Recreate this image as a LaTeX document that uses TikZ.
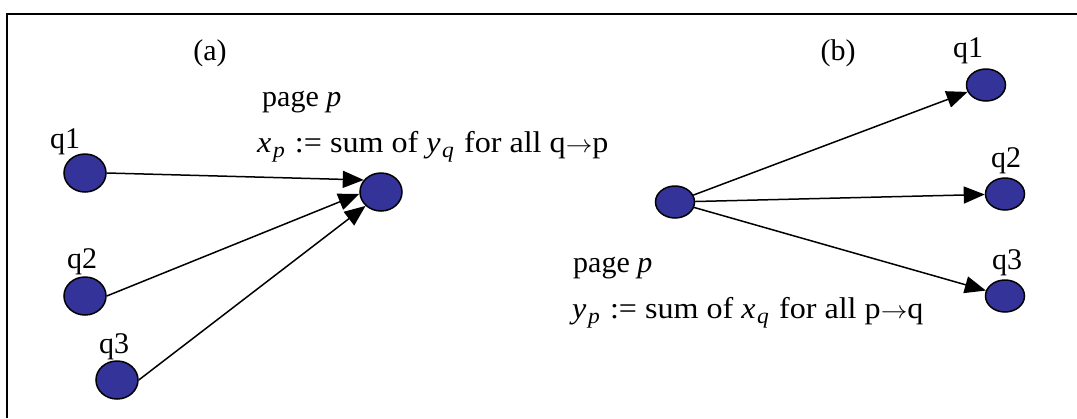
\documentclass[tikz,border=0pt]{standalone}
\usepackage{fontspec}
\setmainfont{Liberation Serif}
\definecolor{pageblue}{HTML}{333399}
\usetikzlibrary{arrows.meta,shapes.geometric}
% italic variable with its subscript
\newcommand{\pgvar}[2]{\textit{#1}\kern1.5pt\raisebox{-5pt}{\fontsize{22}{22}\selectfont\textit{#2}}\kern2pt\relax}
% a rule line, a little wider than the font
\newcommand{\pgrule}[1]{\scalebox{1.07}[1]{#1}}

\begin{document}
\begin{tikzpicture}[x=1pt,y=-1pt,
  pagenode/.style={ellipse,draw=black,line width=1.5pt,fill=pageblue,inner sep=0pt},
  bigpage/.style={pagenode,minimum width=42pt,minimum height=38pt},
  smallpage/.style={pagenode,minimum width=39pt,minimum height=32pt},
  link/.style={-{Triangle[length=21pt,width=17pt]},line width=1.5pt},
  lbl/.style={inner sep=0pt}]
  \fontsize{30}{36}\selectfont
  \useasboundingbox (0,0) rectangle (1077,418);
  % frame
  \draw[line width=2pt] (7,418) -- (7,14) -- (1077,14);
  % (a) in-links
  \node[lbl,anchor=base] (atitle) at (210,60) {(a)};
  \node[lbl,anchor=base west] (apage) at (262,106) {page \textit{p}};
  \node[lbl,anchor=base west] (arule) at (257,152) {\pgrule{\pgvar{x}{p} := sum of \pgvar{y}{q} for all q\ensuremath{\rightarrow}p}};
  \node[bigpage] (qa1) at (85,173) {};
  \node[lbl,anchor=base] (qa1lbl) at (65,148) {q1};
  \node[bigpage] (qa2) at (85,296) {};
  \node[lbl,anchor=base] (qa2lbl) at (82,268) {q2};
  \node[bigpage] (qa3) at (117,380) {};
  \node[lbl,anchor=base] (qa3lbl) at (114,353) {q3};
  \node[bigpage] (pa) at (381,192) {};
  \draw[link] (qa1.east) -- (pa.145);
  \draw[link] (qa2.east) -- (pa.185);
  \draw[link] (qa3.east) -- (pa.222);
  % (b) out-links
  \node[lbl,anchor=base] (btitle) at (838,60) {(b)};
  \node[lbl,anchor=base west] (bpage) at (573,272) {page \textit{p}};
  \node[lbl,anchor=base west] (brule) at (572,318) {\pgrule{\pgvar{y}{p} := sum of \pgvar{x}{q} for all p\ensuremath{\rightarrow}q}};
  \node[smallpage] (pb) at (675,202) {};
  \node[smallpage] (qb1) at (986,85) {};
  \node[lbl,anchor=base] (qb1lbl) at (968,57) {q1};
  \node[smallpage] (qb2) at (1005,194) {};
  \node[lbl,anchor=base] (qb2lbl) at (1006,167) {q2};
  \node[smallpage] (qb3) at (1005,296) {};
  \node[lbl,anchor=base] (qb3lbl) at (1007,269) {q3};
  \draw[link] (pb) -- (qb1);
  \draw[link] (pb) -- (qb2);
  \draw[link] (pb) -- (qb3);
\end{tikzpicture}
\end{document}
